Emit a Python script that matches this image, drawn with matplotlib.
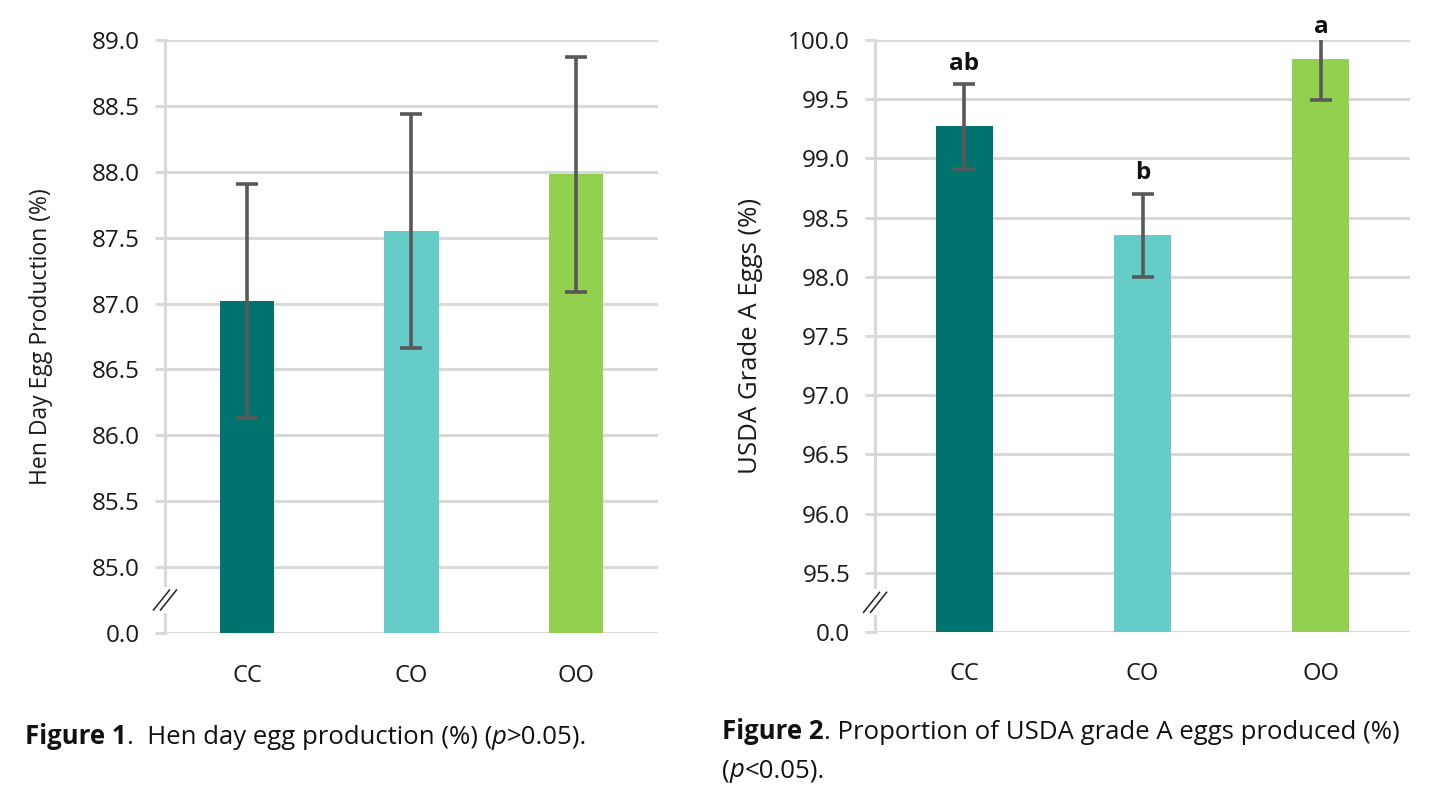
import matplotlib
matplotlib.use("Agg")
import matplotlib.pyplot as plt
from matplotlib.lines import Line2D
from matplotlib.transforms import IdentityTransform

# ---- data ----
groups = ["CC", "CO", "OO"]
colors = ["#00736f", "#66ccc8", "#92d050"]

hen_day_mean = [87.02, 87.55, 87.98]
hen_day_err = [0.89, 0.89, 0.89]
hen_day_ticks = [84.5, 85.0, 85.5, 86.0, 86.5, 87.0, 87.5, 88.0, 88.5, 89.0]
hen_day_ticklabels = ["0.0", "85.0", "85.5", "86.0", "86.5", "87.0", "87.5", "88.0", "88.5", "89.0"]

grade_a_mean = [99.27, 98.35, 99.84]
grade_a_err = [0.36, 0.35, 0.35]
grade_a_letters = ["ab", "b", "a"]
grade_a_ticks = [95.0, 95.5, 96.0, 96.5, 97.0, 97.5, 98.0, 98.5, 99.0, 99.5, 100.0]
grade_a_ticklabels = ["0.0", "95.5", "96.0", "96.5", "97.0", "97.5", "98.0", "98.5",
                      "99.0", "99.5", "100.0"]

plt.rcParams["font.family"] = ["Open Sans", "DejaVu Sans"]
GRID = "#d9d9d9"
TXT = "#1a1a1a"


def panel(fig, rect, means, errs, ticks, ticklabels, ylabel, width, ylabel_fs, labelpad):
    ax = fig.add_axes(rect)
    ax.bar(groups, means, width=width, color=colors, zorder=2)
    ax.errorbar(groups, means, yerr=errs, fmt="none", ecolor="#595959",
                elinewidth=2.6, capsize=8, capthick=2.6, zorder=3)
    ax.set_ylim(ticks[0], ticks[-1])
    ax.set_xlim(-0.5, 2.5)
    ax.set_yticks(ticks)
    ax.set_yticklabels(ticklabels)
    ax.yaxis.grid(True, color=GRID, linewidth=2.2, zorder=0)
    ax.set_axisbelow(True)
    for s in ("top", "right", "bottom"):
        ax.spines[s].set_visible(False)
    ax.spines["left"].set_color(GRID)
    ax.spines["left"].set_linewidth(2.2)
    ax.tick_params(axis="y", length=7, width=2.2, color=GRID, pad=11,
                   labelsize=17.5, labelcolor=TXT)
    ax.tick_params(axis="x", length=0, pad=22, labelsize=17, labelcolor=TXT)
    ax.set_ylabel(ylabel, fontsize=ylabel_fs, color=TXT, labelpad=labelpad)

    # axis break mark "//" between the first two ticks, drawn in pixels
    yb = (ticks[0] + ticks[1]) / 2
    cx, cy = ax.get_yaxis_transform().transform((0, yb))
    fig.add_artist(Line2D([cx, cx], [cy - 13, cy + 13], transform=IdentityTransform(),
                          color="white", lw=6, solid_capstyle="butt", zorder=4))
    for dx in (-3.5, 3.5):
        fig.add_artist(Line2D([cx + dx - 8, cx + dx + 8], [cy - 10, cy + 10],
                              transform=IdentityTransform(), color="#222222",
                              lw=1.1, zorder=5))
    return ax


fig = plt.figure(figsize=(14.31, 7.86), dpi=100)

ax1 = panel(fig, [0.1153, 0.1947, 0.3445, 0.7545], hen_day_mean, hen_day_err,
            hen_day_ticks, hen_day_ticklabels, "Hen Day Egg Production (%)", 0.33,
            16.5, 28)
ax2 = panel(fig, [0.6115, 0.196, 0.3739, 0.753], grade_a_mean, grade_a_err,
            grade_a_ticks, grade_a_ticklabels, "USDA Grade A Eggs (%)", 0.32,
            18.5, 18)

# significance letters sit above the (clipped) top of each error bar
label_offsets = [10, 11, 5]
ytop = grade_a_ticks[-1]
for i, (m, e, lab) in enumerate(zip(grade_a_mean, grade_a_err, grade_a_letters)):
    ax2.annotate(lab, (i, min(m + e, ytop)), xytext=(0, label_offsets[i]),
                 textcoords="offset points", ha="center", va="baseline",
                 fontsize=17.5, fontweight="bold", color="#111111",
                 annotation_clip=False)


def caption(fig, x, y, pieces, fs=18.5):
    """Draw text pieces one after another on a line (figure pixel coords)."""
    renderer = fig.canvas.get_renderer()
    for txt, kw in pieces:
        t = fig.text(x / fig.bbox.width, 1 - y / fig.bbox.height, txt, fontsize=fs,
                     va="baseline", ha="left", color="#111111", **kw)
        x += t.get_window_extent(renderer).width


caption(fig, 25, 744, [("Figure 1", dict(fontweight="bold")),
                       (".  Hen day egg production (%) (", {}),
                       ("p", dict(style="italic")),
                       (">0.05).", {})])
caption(fig, 722, 739, [("Figure 2", dict(fontweight="bold")),
                        (". Proportion of USDA grade A eggs produced (%)", {})])
caption(fig, 722, 777, [("(", {}), ("p", dict(style="italic")), ("<0.05).", {})])

fig.savefig("out.png", dpi=100)
